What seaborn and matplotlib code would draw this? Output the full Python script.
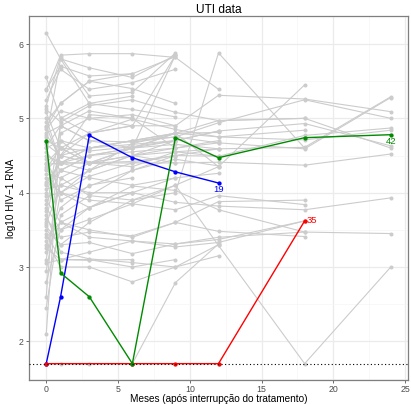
import numpy as np
import pandas as pd
import matplotlib
matplotlib.use('Agg')
import matplotlib.pyplot as plt
import seaborn as sns

N = np.nan
meses = [0, 1, 3, 6, 9, 12, 18, 24]

# log10 RNA por paciente (cinza), NaN = sem medida
pacientes = [
    [6.15, 5.80, 5.68, 5.55, 5.85, N, N, N],
    [5.55, 5.00, 4.80, 4.90, 4.90, 5.31, 5.26, 5.09],
    [5.39, 5.70, 5.57, 5.60, 5.83, N, N, N],
    [5.38, 5.85, 5.87, 5.87, 5.82, 5.39, N, N],
    [5.25, 5.66, 5.39, 5.48, 5.66, N, N, N],
    [5.17, 5.83, 5.30, 5.35, 5.88, N, N, N],
    [5.12, 4.95, 5.17, 5.25, 5.08, 4.97, 5.00, 4.60],
    [5.00, 4.40, 4.30, 4.50, 4.40, 4.41, 4.37, 4.52],
    [4.95, 5.20, 5.50, 5.60, N, N, N, N],
    [4.90, 4.40, 4.60, 4.70, 4.75, 4.94, 5.25, 5.00],
    [4.85, 5.10, 5.00, 5.05, 4.90, N, N, N],
    [4.80, 4.90, 4.70, 4.60, 4.70, 4.83, 4.93, 4.63],
    [4.75, 5.80, 5.20, 5.12, 5.02, N, N, N],
    [4.70, 4.60, 4.80, 4.99, 4.85, 4.75, 4.84, N],
    [4.65, 4.50, 4.40, 4.60, 4.80, 4.35, 5.45, N],
    [4.60, 4.70, 4.60, 4.70, 4.80, N, N, N],
    [4.55, 4.30, 4.50, 4.55, 4.60, 4.67, 4.59, 5.28],
    [4.50, 4.40, 4.50, 4.60, 4.65, 4.59, 4.61, 5.29],
    [4.45, 4.00, 4.22, 4.40, 4.50, N, N, N],
    [4.40, 4.60, 4.40, 4.35, 4.55, 4.49, 4.77, 4.87],
    [4.38, 4.40, 4.40, 4.40, 4.40, N, N, N],
    [4.35, 3.90, 4.09, 4.30, 4.45, 4.36, N, N],
    [4.30, 4.50, 4.60, 4.70, 4.80, 4.75, 4.71, 4.84],
    [4.25, 4.20, 3.96, 3.90, 4.00, 5.88, 4.60, N],
    [4.20, 4.00, 3.90, 3.85, 3.77, 3.96, 3.84, N],
    [4.15, 4.40, 4.60, 4.65, 4.70, N, N, N],
    [4.10, 4.30, 4.50, 4.60, 5.85, N, N, N],
    [4.05, 4.10, 4.00, 4.00, 3.87, 3.82, 3.77, 3.93],
    [4.00, 4.50, 4.80, 4.90, N, N, N, N],
    [3.95, 4.00, 3.80, 4.09, 4.03, 3.77, 3.47, N],
    [3.90, 3.60, 3.80, 4.00, 4.20, 4.26, N, N],
    [3.80, 3.50, 3.64, 3.85, 4.10, 4.35, N, N],
    [3.75, 4.90, 5.10, 5.00, 4.60, N, N, N],
    [3.70, 3.20, 3.11, 3.06, 3.00, 3.15, N, N],
    [3.65, 3.40, 3.47, 3.42, 3.60, 3.88, 3.90, N],
    [3.60, 4.70, 4.40, 4.50, 4.60, 4.70, N, N],
    [3.55, 3.30, 3.33, 3.18, 3.31, 3.37, 3.62, N],
    [3.50, 3.30, 3.60, 3.90, 4.10, 3.29, 1.70, 3.00],
    [3.45, 3.10, 3.20, 3.35, 3.27, 3.33, 3.62, N],
    [3.40, 3.60, 3.40, 3.35, 3.31, 3.40, 3.47, 3.45],
    [3.35, 3.00, 3.00, 2.80, 3.00, 3.30, N, N],
    [3.30, 3.80, 4.10, 4.20, N, N, N, N],
    [3.20, 3.60, 3.50, 3.40, 3.60, 3.48, 3.41, N],
    [3.10, 4.20, 4.40, 4.60, 4.80, 4.97, 5.00, N],
    [3.05, 3.10, 3.09, 3.10, N, N, N, N],
    [2.95, 4.00, 4.30, 4.50, 4.70, 4.83, N, N],
    [2.80, 3.50, 3.80, 4.00, N, N, N, N],
    [2.60, 5.00, 5.20, 5.30, N, N, N, N],
    [2.45, 3.70, 3.96, 4.30, 4.50, 4.59, N, N],
    [2.10, 4.80, 5.00, 4.90, 5.85, N, N, N],
    [1.70, 1.70, 1.70, 1.70, 2.79, 3.31, N, N],
    [4.88, 5.20, 5.50, 5.40, 5.20, N, N, N],
    [4.62, 4.90, 4.70, 4.68, 4.75, 4.67, N, N],
    [4.32, 4.60, 4.56, 4.62, 4.70, N, N, N],
    [4.12, 4.40, 4.40, 4.42, 4.50, 4.49, N, N],
    [3.85, 4.30, 4.20, 4.10, 4.20, N, N, N],
    [3.58, 4.10, 4.30, 4.66, 4.80, 4.81, N, N],
    [4.78, 4.50, 5.05, 5.00, N, N, N, N],
    [5.08, 4.60, 4.40, 4.50, 4.55, 4.59, N, N],
    [3.25, 3.10, 3.10, 3.00, 3.10, N, N, N],
]

# pacientes destacados
id_19 = [1.70, 2.60, 4.77, 4.47, 4.28, 4.13, N, N]
id_35 = [1.70, N, N, 1.70, 1.70, 1.70, 3.62, N]
id_42 = [4.69, 2.92, 2.60, 1.70, 4.74, 4.47, 4.74, 4.78]
destaques = {'19': (id_19, 'blue'), '35': (id_35, 'red'), '42': (id_42, '#008B00')}

limite_deteccao = 1.7

linhas = []
for i, vals in enumerate(pacientes):
    for t, v in zip(meses, vals):
        linhas.append({'id': i, 'mes': t, 'rna': v})
dados = pd.DataFrame(linhas).dropna()

fonte = ['Liberation Sans', 'DejaVu Sans']

fig = plt.figure(figsize=(4.11, 4.04), dpi=100)
ax = fig.add_axes([29 / 411, 1 - 380 / 404, 379 / 411, (380 - 16.5) / 404])
ax.set_facecolor('white')

cinza = '#CCCCCC'
sns.lineplot(data=dados, x='mes', y='rna', units='id', estimator=None,
             color=cinza, lw=0.8, marker='o', markersize=2.9, mec=cinza,
             mew=0, ax=ax, zorder=2, sort=True)

for nome, (vals, cor) in destaques.items():
    d = pd.DataFrame({'mes': meses, 'rna': vals}).dropna()
    sns.lineplot(data=d, x='mes', y='rna', color=cor, lw=1.0, marker='o',
                 markersize=3.1, mew=0, ax=ax, zorder=4)

ax.axhline(limite_deteccao, color='black', ls=(0, (1, 2.2)), lw=0.8, zorder=5)

ax.text(12, 4.04, '19', color='blue', ha='center', va='center', fontsize=6.8, family=fonte, zorder=6)
ax.text(18.15, 3.62, '35', color='red', ha='left', va='center', fontsize=6.8, family=fonte, zorder=6)
ax.text(24, 4.69, '42', color='#008B00', ha='center', va='center', fontsize=6.8, family=fonte, zorder=6)

ax.set_xlim(-1.2, 25.2)
ax.set_ylim(1.48, 6.37)
ax.set_xticks([0, 5, 10, 15, 20, 25])
ax.set_yticks([2, 3, 4, 5, 6])
ax.set_xticks([2.5, 7.5, 12.5, 17.5, 22.5], minor=True)
ax.set_yticks([1.5, 2.5, 3.5, 4.5, 5.5], minor=True)
ax.grid(which='major', color='#EBEBEB', lw=0.9, zorder=0)
ax.grid(which='minor', color='#F5F5F5', lw=0.5, zorder=0)
ax.set_axisbelow(True)
ax.tick_params(which='major', length=2.5, width=0.6, color='#555555',
               labelsize=6.3, labelcolor='#4D4D4D', pad=1.3)
ax.tick_params(which='minor', length=0)
for s in ax.spines.values():
    s.set_color('#7F7F7F')
    s.set_linewidth(0.9)

ax.set_title('UTI data', fontsize=8.6, pad=2.5, family=fonte)
ax.set_xlabel('Meses (após interrupção do tratamento)', fontsize=7.2, labelpad=0, family=fonte)
ax.set_ylabel('log10 HIV\u22121 RNA', fontsize=7.2, labelpad=2, family=fonte)
for t in ax.get_xticklabels() + ax.get_yticklabels():
    t.set_family(fonte)

fig.savefig('out.png', dpi=100)
